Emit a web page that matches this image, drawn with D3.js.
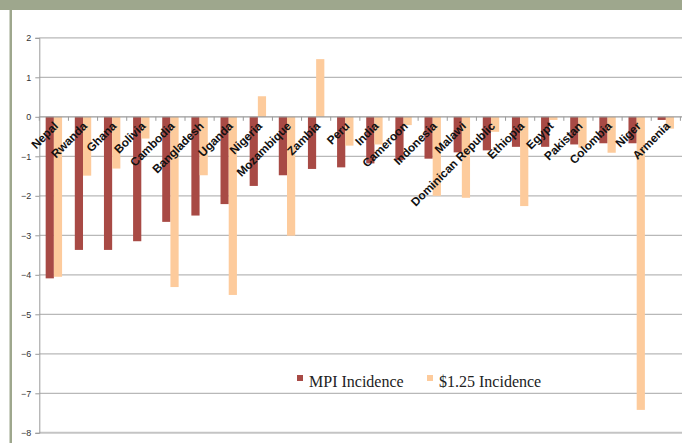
<!doctype html>
<html>
<head>
<meta charset="utf-8">
<script src="https://cdnjs.cloudflare.com/ajax/libs/d3/7.8.5/d3.min.js"></script>
<style>
  body { margin: 0; background: #fff; }
  svg { display: block; }
  .ylab { font-family: "Liberation Sans", Arial, sans-serif; font-size: 9px; fill: #333; }
  .xlab { font-family: "Liberation Sans", Arial, sans-serif; font-size: 11.8px; font-weight: bold; fill: #111; }
  .leg { font-family: "Liberation Serif", "Times New Roman", serif; font-size: 16px; fill: #222; }
</style>
</head>
<body>
<svg id="chart" width="682" height="443"></svg>
<script>
var countries = ["Nepal","Rwanda","Ghana","Bolivia","Cambodia","Bangladesh","Uganda","Nigeria",
  "Mozambique","Zambia","Peru","India","Cameroon","Indonesia","Malawi","Dominican Republic",
  "Ethiopia","Egypt","Pakistan","Colombia","Niger","Armenia"];
var mpi = [-4.09,-3.37,-3.37,-3.15,-2.66,-2.50,-2.21,-1.75,-1.48,-1.32,-1.28,-1.18,-1.10,-1.06,
  -0.90,-0.85,-0.76,-0.76,-0.70,-0.67,-0.67,-0.08];
var usd = [-4.05,-1.49,-1.31,-0.55,-4.31,-1.48,-4.51,0.52,-3.01,1.46,-0.73,-0.70,-0.21,-2.00,
  -2.05,-0.38,-2.26,-0.08,-0.78,-0.91,-7.42,-0.30];
var seriesNames = ["MPI Incidence","$1.25 Incidence"];
var yTicks = [2,1,0,-1,-2,-3,-4,-5,-6,-7,-8];

var colors = ["#a84a45","#fdcb9c"];
var svg = d3.select("#chart");

// frame
svg.append("rect").attr("x",0).attr("y",0).attr("width",682).attr("height",10).attr("fill","#9ea78d");
svg.append("rect").attr("x",9.5).attr("y",0).attr("width",2.5).attr("height",443).attr("fill","#9ea78d");

var left = 39.3, right = 680.4;
var y = d3.scaleLinear().domain([-8,2]).range([432.8,37.8]);
var x = d3.scaleBand().domain(countries).range([left,right]).paddingInner(0.437).paddingOuter(0.2185);
var x1 = d3.scaleBand().domain([0,1]).range([0,x.bandwidth()]);

// gridlines
svg.append("g").selectAll("line").data(yTicks.filter(d => d !== 0)).join("line")
  .attr("x1",left).attr("x2",682)
  .attr("y1",d => y(d)).attr("y2",d => y(d))
  .attr("stroke",d => d === -8 ? "#c4c4c4" : "#b8b8b8")
  .attr("stroke-width",d => d === -8 ? 2 : 1.3);

// y axis
var yAxis = d3.axisLeft(y).tickValues(yTicks).tickSize(4).tickFormat(d3.format("d"));
var ya = svg.append("g").attr("transform","translate(" + left + ",0)").call(yAxis);
ya.select(".domain").attr("stroke","#9a9a9a");
ya.selectAll(".tick line").attr("stroke","#9a9a9a");
ya.selectAll(".tick text").attr("class","ylab").attr("x",-8).attr("fill",null);

// bars
var rows = countries.map((c,i) => ({c: c, v: [mpi[i], usd[i]]}));
var g = svg.append("g").selectAll("g").data(rows).join("g")
  .attr("transform",d => "translate(" + x(d.c) + ",0)");
g.selectAll("rect").data(d => d.v.map((v,k) => ({k: k, v: v}))).join("rect")
  .attr("x",d => x1(d.k)).attr("width",x1.bandwidth())
  .attr("y",d => y(Math.max(0,d.v)))
  .attr("height",d => Math.abs(y(d.v) - y(0)))
  .attr("fill",d => colors[d.k]);

// zero line / category axis
var y0 = y(0);
svg.append("line").attr("x1",left).attr("x2",682).attr("y1",y0).attr("y2",y0)
  .attr("stroke","#9a9a9a").attr("stroke-width",1.2);
var step = x.step();
svg.append("g").selectAll("line").data(d3.range(countries.length + 1)).join("line")
  .attr("x1",i => left + i * step).attr("x2",i => left + i * step)
  .attr("y1",y0).attr("y2",y0 + 4).attr("stroke","#9a9a9a");

// category labels
svg.append("g").selectAll("text").data(countries).join("text")
  .attr("class","xlab")
  .attr("text-anchor","end")
  .attr("transform",d => "translate(" + (x(d) + x.bandwidth() / 2 + 5) + "," + (y0 + 10) + ") rotate(-45)")
  .text(d => d);

// legend
var legX = [297, 427];
var lg = svg.append("g").selectAll("g").data(seriesNames).join("g")
  .attr("transform",(d,i) => "translate(" + legX[i] + ",375)");
lg.append("rect").attr("width",6).attr("height",6).attr("fill",(d,i) => colors[i]);
lg.append("text").attr("class","leg").attr("x",12).attr("y",12).text(d => d);
</script>
</body>
</html>
